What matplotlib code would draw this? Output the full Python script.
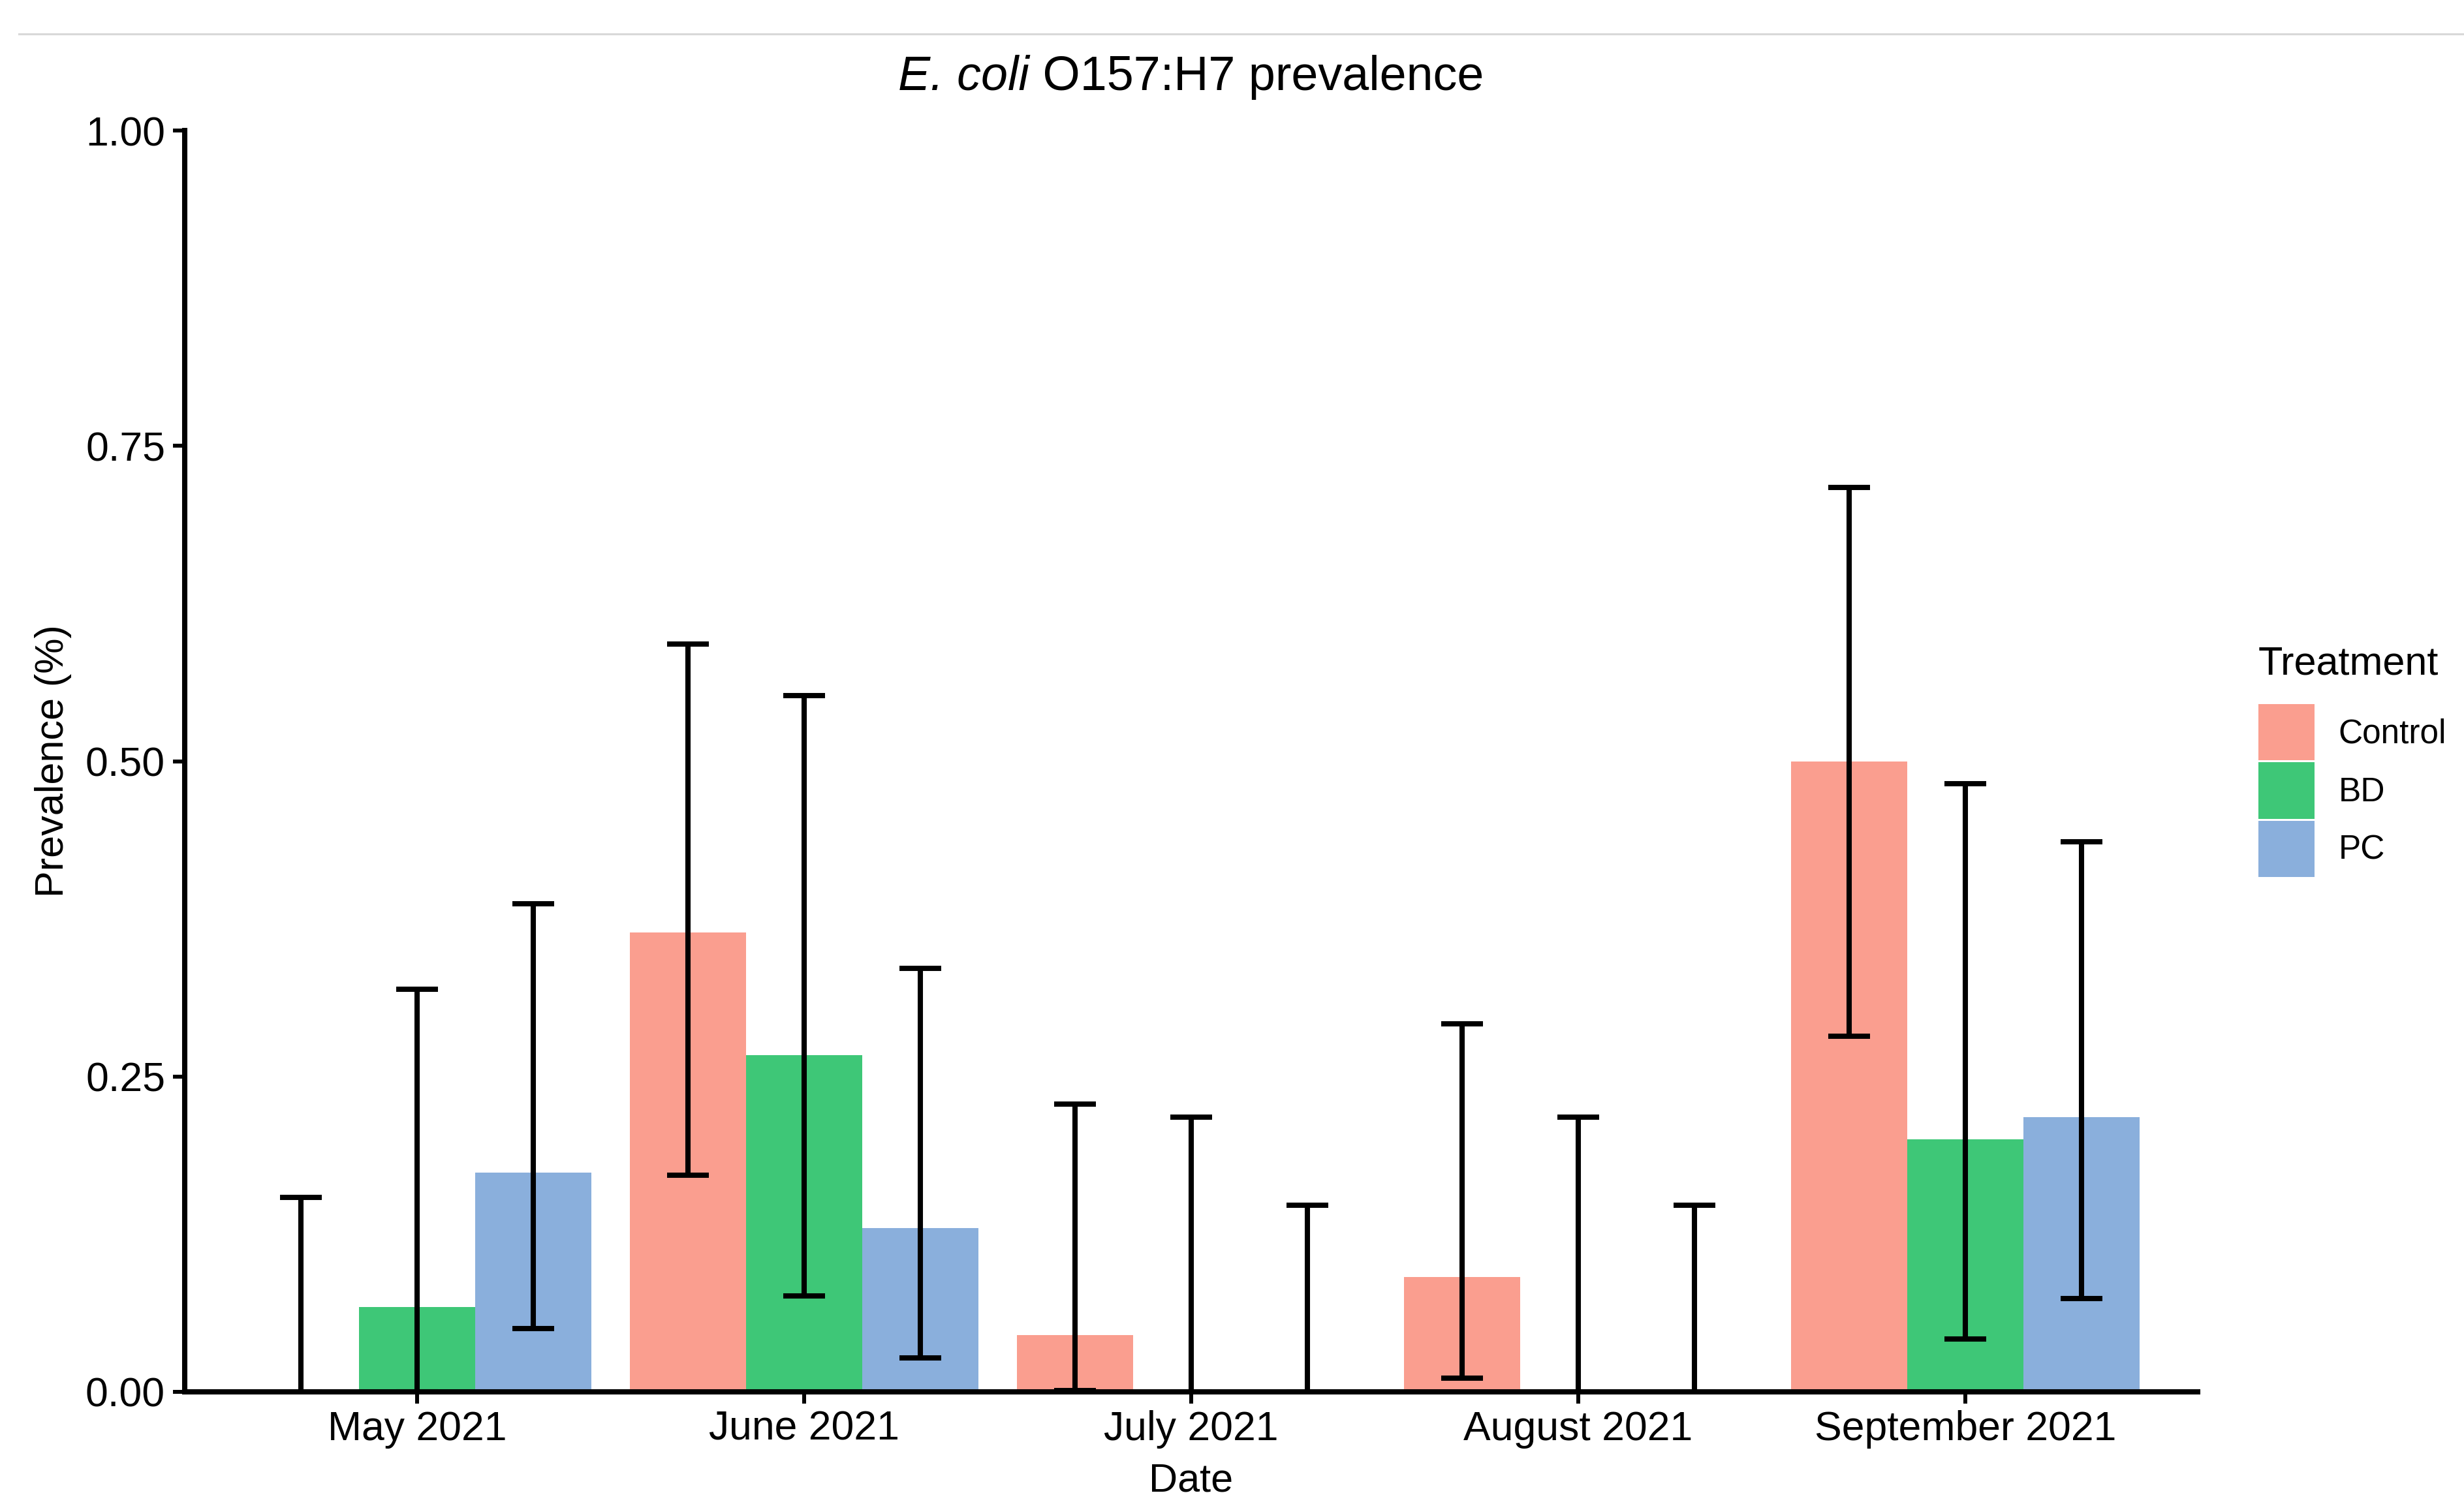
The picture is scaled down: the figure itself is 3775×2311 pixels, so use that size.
import matplotlib
matplotlib.use("Agg")
import matplotlib.pyplot as plt
import numpy as np
from matplotlib.patches import Patch
from matplotlib.lines import Line2D

plt.rcParams['font.family'] = ['Liberation Sans', 'DejaVu Sans']

# ---- data ----
months = ["May 2021", "June 2021", "July 2021", "August 2021", "September 2021"]
treatments = ["Control", "BD", "PC"]

control = [0.0, 0.364, 0.045, 0.091, 0.500]
control_lo = [0.0, 0.172, 0.001, 0.011, 0.282]
control_hi = [0.154, 0.593, 0.228, 0.292, 0.717]

bd = [0.067, 0.267, 0.0, 0.0, 0.200]
bd_lo = [0.0, 0.076, 0.0, 0.0, 0.042]
bd_hi = [0.319, 0.552, 0.218, 0.218, 0.482]

pc = [0.174, 0.130, 0.0, 0.0, 0.218]
pc_lo = [0.050, 0.027, 0.0, 0.0, 0.074]
pc_hi = [0.387, 0.336, 0.148, 0.148, 0.436]

colors = ["#FA9E8F", "#3EC777", "#8AAFDC"]
yticks = [0.00, 0.25, 0.50, 0.75, 1.00]
ytick_labels = ["0.00", "0.25", "0.50", "0.75", "1.00"]

title_italic = "E. coli"
title_rest = " O157:H7 prevalence"

series = [(control, control_lo, control_hi), (bd, bd_lo, bd_hi), (pc, pc_lo, pc_hi)]

# ---- figure ----
W, H = 3775, 2311
fig = plt.figure(figsize=(W / 100, H / 100), dpi=100)
ax = fig.add_axes([283 / W, 1 - 2133 / H, (3367 - 283) / W, (2133 - 200) / H])

x = np.arange(1, len(months) + 1)
bw = 0.3
offsets = [-bw, 0.0, bw]

for (vals, lo, hi), off, col, name in zip(series, offsets, colors, treatments):
    vals = np.array(vals); lo = np.array(lo); hi = np.array(hi)
    ax.bar(x + off, vals, width=bw, color=col, edgecolor='none', label=name, zorder=2)
    ax.errorbar(x + off, vals, yerr=[vals - lo, hi - vals], fmt='none',
                ecolor='black', elinewidth=5.8, capsize=23, capthick=5.8, zorder=3)

ax.set_xlim(0.4, 5.6)
ax.set_ylim(0, 1)
ax.set_xticks(x)
ax.set_xticklabels(months)
ax.set_yticks(yticks)
ax.set_yticklabels(ytick_labels)

for s in ['top', 'right']:
    ax.spines[s].set_visible(False)
for s in ['left', 'bottom']:
    ax.spines[s].set_linewidth(5.8)
    ax.spines[s].set_color('black')

ax.tick_params(axis='both', which='major', length=13, width=4.3, color='black',
               labelcolor='black', labelsize=45)
ax.tick_params(axis='x', pad=7)
ax.tick_params(axis='y', pad=8.6)

ax.set_xlabel("Date", fontsize=44)
ax.xaxis.label.set_va('baseline')
ax.xaxis.set_label_coords(0.5, -(2286 - 2133) / (2133 - 200))

ax.set_ylabel("Prevalence (%)", fontsize=44)
ax.yaxis.label.set_va('center')
ax.yaxis.set_label_coords((82 - 283) / (3367 - 283), 0.5)

# title: italic species name + regular remainder, centred over the panel
renderer = fig.canvas.get_renderer()
ty = 1 - 138 / H
t1 = fig.text(0, ty, title_italic, fontsize=53, style='italic', ha='left', va='baseline')
t2 = fig.text(0, ty, title_rest, fontsize=53, ha='left', va='baseline')
w1 = t1.get_window_extent(renderer).width
w2 = t2.get_window_extent(renderer).width
cx = (283 + 3367) / 2
x0 = cx - (w1 + w2) / 2
t1.set_x(x0 / W)
t2.set_x((x0 + w1) / W)

# top grey rule
fig.add_artist(Line2D([29 / W, 1.0], [1 - 51.5 / H] * 2, transform=fig.transFigure,
                      color='#d9d9d9', linewidth=2.3))

# legend
handles = [Patch(facecolor=c, edgecolor='none') for c in colors]
leg = fig.legend(handles, treatments, title="Treatment", loc='upper left',
                 bbox_to_anchor=(3460 / W, 1 - 989 / H), bbox_transform=fig.transFigure,
                 frameon=False, fontsize=37, title_fontsize=44, alignment='left',
                 handlelength=1.68, handleheight=2.2, labelspacing=0.06,
                 handletextpad=0.7, borderpad=0, borderaxespad=0)
leg._legend_box.sep = 24

fig.savefig("out.png", dpi=100)
